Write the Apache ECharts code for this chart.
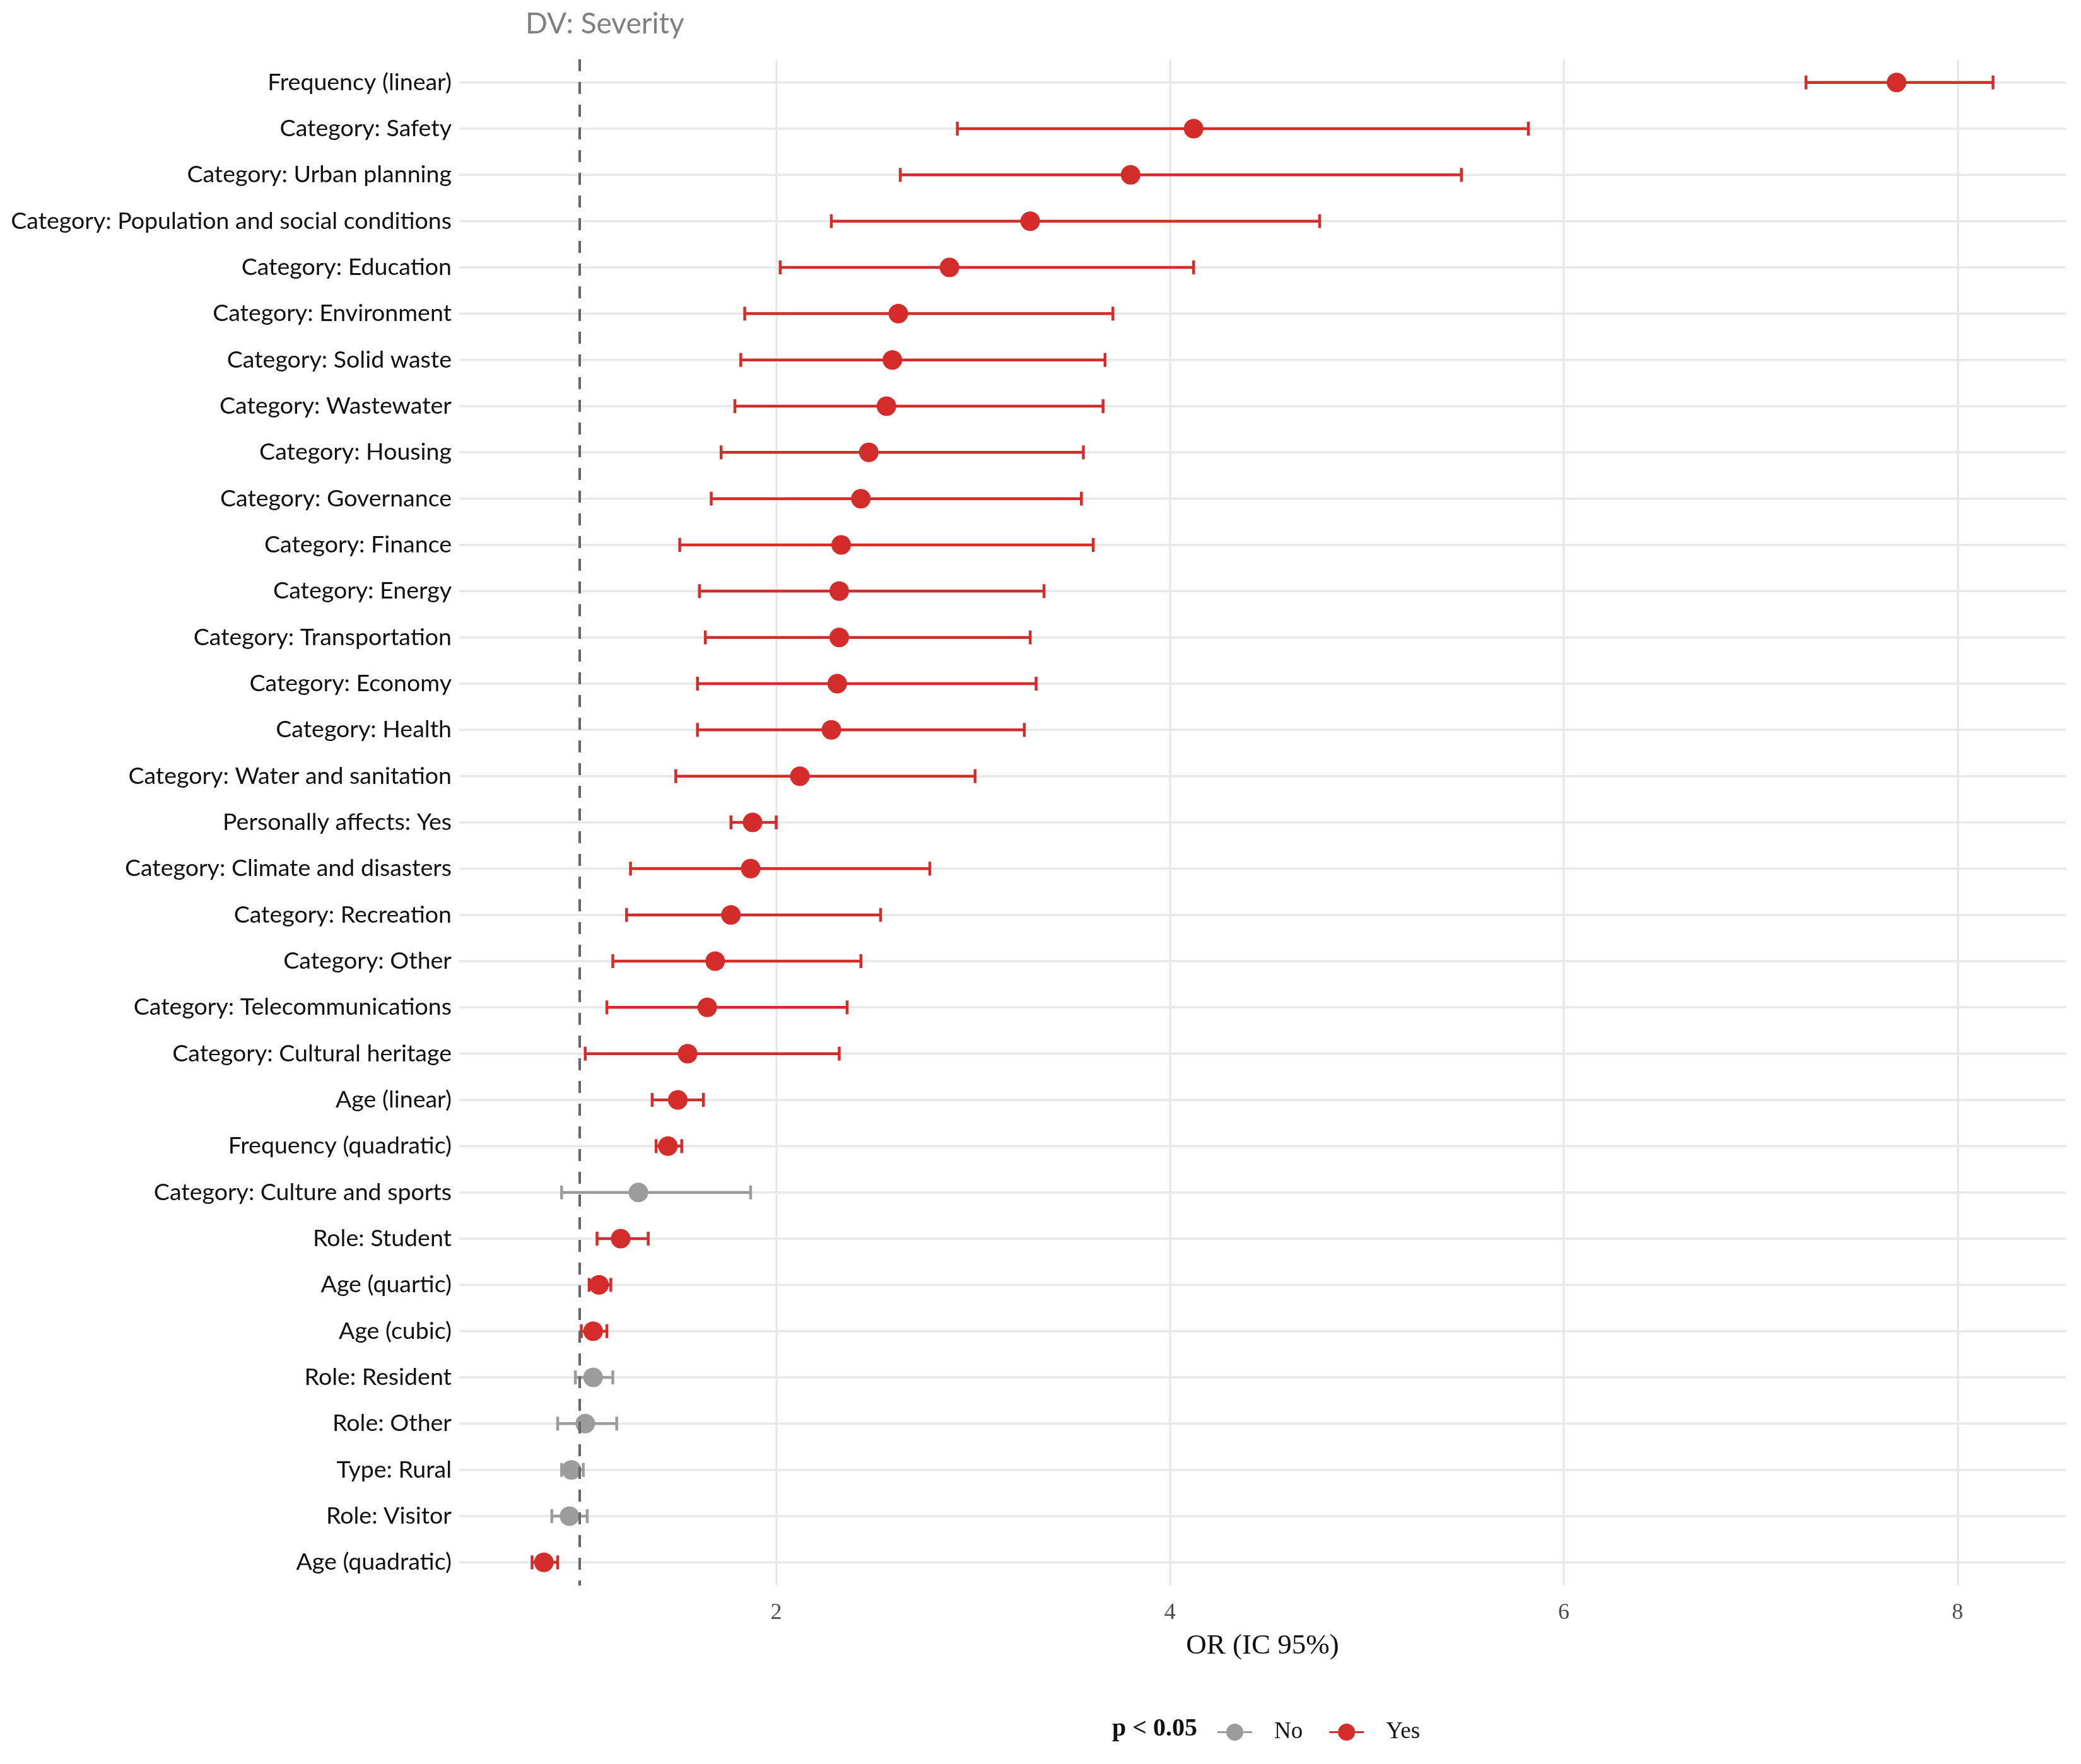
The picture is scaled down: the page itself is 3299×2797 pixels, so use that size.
<!DOCTYPE html>
<html>
<head>
<meta charset="utf-8">
<title>DV: Severity</title>
<script src="https://cdn.jsdelivr.net/npm/echarts@6/dist/echarts.min.js"></script>
<style>
  html, body { margin: 0; padding: 0; background: #fff; }
  #chart { width: 3299px; height: 2797px; }
</style>
</head>
<body>
<div id="chart"></div>
<script>
// ---------------------------------------------------
// Datos (de arriba hacia abajo)
// ---------------------------------------------------
const labels = [
  'Frequency (linear)',
  'Category: Safety',
  'Category: Urban planning',
  'Category: Population and social conditions',
  'Category: Education',
  'Category: Environment',
  'Category: Solid waste',
  'Category: Wastewater',
  'Category: Housing',
  'Category: Governance',
  'Category: Finance',
  'Category: Energy',
  'Category: Transportation',
  'Category: Economy',
  'Category: Health',
  'Category: Water and sanitation',
  'Personally affects: Yes',
  'Category: Climate and disasters',
  'Category: Recreation',
  'Category: Other',
  'Category: Telecommunications',
  'Category: Cultural heritage',
  'Age (linear)',
  'Frequency (quadratic)',
  'Category: Culture and sports',
  'Role: Student',
  'Age (quartic)',
  'Age (cubic)',
  'Role: Resident',
  'Role: Other',
  'Type: Rural',
  'Role: Visitor',
  'Age (quadratic)'
];

const estimates = [7.69, 4.12, 3.80, 3.29, 2.88, 2.62, 2.59, 2.56, 2.47, 2.43, 2.33,
  2.32, 2.32, 2.31, 2.28, 2.12, 1.88, 1.87, 1.77, 1.69, 1.65, 1.55, 1.50, 1.45,
  1.30, 1.21, 1.10, 1.07, 1.07, 1.03, 0.96, 0.95, 0.82];

const lower = [7.23, 2.92, 2.63, 2.28, 2.02, 1.84, 1.82, 1.79, 1.72, 1.67, 1.51,
  1.61, 1.64, 1.60, 1.60, 1.49, 1.77, 1.26, 1.24, 1.17, 1.14, 1.03, 1.37, 1.39,
  0.91, 1.09, 1.05, 1.01, 0.98, 0.89, 0.91, 0.86, 0.76];

const upper = [8.18, 5.82, 5.48, 4.76, 4.12, 3.71, 3.67, 3.66, 3.56, 3.55, 3.61,
  3.36, 3.29, 3.32, 3.26, 3.01, 2.00, 2.78, 2.53, 2.43, 2.36, 2.32, 1.63, 1.52,
  1.87, 1.35, 1.16, 1.14, 1.17, 1.19, 1.02, 1.04, 0.89];

// p < 0.05 ?
const significant = [true, true, true, true, true, true, true, true, true, true, true,
  true, true, true, true, true, true, true, true, true, true, true, true, true,
  false, true, true, true, false, false, false, false, true];

const xTicks = [2, 4, 6, 8];
const refValue = 1;

const RED = '#d42b2b';
const GREY = '#9c9c9c';

// filas [estimado, categoria, lim inf, lim sup]
function buildRows(flag) {
  const rows = [];
  labels.forEach((lab, i) => {
    if (significant[i] === flag) rows.push([estimates[i], lab, lower[i], upper[i]]);
  });
  return rows;
}

// barra de error + punto
function renderPointRange(params, api) {
  const idx = api.value(1);
  const mid = api.coord([api.value(0), idx]);
  const lo = api.coord([api.value(2), idx]);
  const hi = api.coord([api.value(3), idx]);
  const color = api.visual('color');
  const capH = 11;
  const ls = { stroke: color, lineWidth: 4.5 };
  return {
    type: 'group',
    children: [
      { type: 'line', shape: { x1: lo[0], y1: lo[1], x2: hi[0], y2: hi[1] }, style: ls },
      { type: 'line', shape: { x1: lo[0], y1: lo[1] - capH, x2: lo[0], y2: lo[1] + capH }, style: ls },
      { type: 'line', shape: { x1: hi[0], y1: hi[1] - capH, x2: hi[0], y2: hi[1] + capH }, style: ls },
      { type: 'circle', shape: { cx: mid[0], cy: mid[1], r: 15.5 }, style: { fill: color } }
    ]
  };
}

// lineas horizontales de la grilla (centro de cada categoria)
function renderGridRow(params, api) {
  const cs = params.coordSys;
  const y = api.coord([refValue, api.value(1)])[1];
  return {
    type: 'line',
    shape: { x1: cs.x, y1: y, x2: cs.x + cs.width, y2: y },
    style: { stroke: '#e8e8e8', lineWidth: 3.5 }
  };
}

const legendIcon = 'path://M0,13.5 L14,13.5 L14,16.5 L0,16.5 Z M41,13.5 L55,13.5 L55,16.5 L41,16.5 Z M14,15 A13.5,13.5 0 1,1 41,15 A13.5,13.5 0 1,1 14,15 Z';

const chart = echarts.init(document.getElementById('chart'));

const option = {
  animation: false,
  backgroundColor: '#ffffff',
  title: {
    text: 'DV: Severity',
    left: 828,
    top: 10,
    textStyle: { fontFamily: 'Lato', fontSize: 46, fontWeight: 'normal', color: '#808080' }
  },
  grid: { left: 728, right: 24, top: 94, height: 2420 },
  xAxis: {
    type: 'value',
    min: 0.39,
    max: 8.55,
    splitLine: { show: false },
    axisLine: { show: false },
    axisTick: { show: false },
    axisLabel: {
      customValues: xTicks,
      fontFamily: 'Liberation Serif',
      fontSize: 36,
      color: '#4d4d4d',
      margin: 26
    },
    name: 'OR (IC 95%)',
    nameLocation: 'middle',
    nameGap: 74,
    nameTextStyle: { fontFamily: 'Liberation Serif', fontSize: 45, color: '#111' }
  },
  yAxis: {
    type: 'category',
    data: labels,
    inverse: true,
    axisLine: { show: false },
    axisTick: { show: false },
    splitLine: { show: false },
    axisLabel: { interval: 0, fontFamily: 'Lato', fontSize: 37.5, color: '#111', margin: 12 }
  },
  legend: {
    data: ['No', 'Yes'],
    left: 1925,
    top: 2723,
    itemWidth: 55,
    itemHeight: 30,
    itemGap: 42,
    icon: legendIcon,
    textStyle: { fontFamily: 'Liberation Serif', fontSize: 37, color: '#111', padding: [0, 0, 0, 30] }
  },
  graphic: [{
    type: 'text',
    left: 1763,
    top: 2722,
    style: { text: 'p < 0.05', font: 'bold 40px "Liberation Serif"', fill: '#111' }
  }],
  series: [
    {
      name: 'grid',
      type: 'custom',
      z: 1,
      silent: true,
      renderItem: renderGridRow,
      data: labels.map(lab => [refValue, lab])
    },
    {
      name: 'ref',
      type: 'line',
      z: 1,
      silent: true,
      data: [],
      markLine: {
        z: 1,
        silent: true,
        symbol: ['none', 'none'],
        label: { show: false },
        lineStyle: { color: '#e8e8e8', width: 3.5, type: 'solid' },
        data: xTicks.map(v => ({ xAxis: v }))
      }
    },
    {
      name: 'No',
      type: 'custom',
      z: 5,
      itemStyle: { color: GREY },
      renderItem: renderPointRange,
      data: buildRows(false)
    },
    {
      name: 'Yes',
      type: 'custom',
      z: 5,
      itemStyle: { color: RED },
      renderItem: renderPointRange,
      data: buildRows(true)
    },
    {
      name: 'dashed',
      type: 'line',
      z: 10,
      silent: true,
      data: [],
      markLine: {
        z: 10,
        silent: true,
        symbol: ['none', 'none'],
        label: { show: false },
        lineStyle: { color: '#666666', width: 4, type: [19, 17] },
        data: [{ xAxis: refValue }]
      }
    }
  ]
};

chart.setOption(option);

window.addEventListener('resize', () => chart.resize());
</script>
</body>
</html>
